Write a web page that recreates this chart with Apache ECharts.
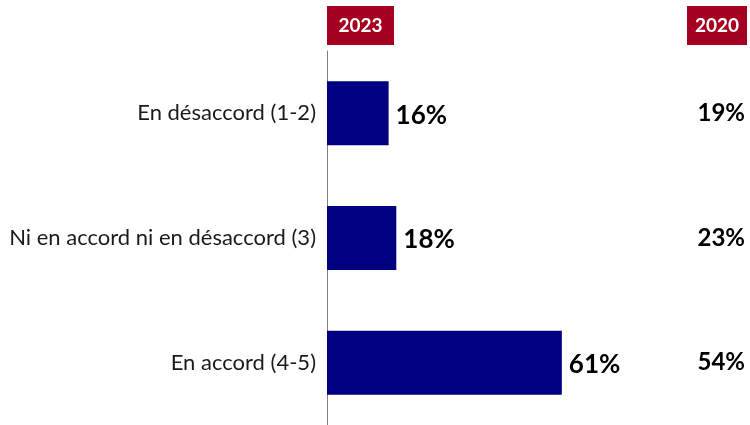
<!DOCTYPE html>
<html>
<head>
<meta charset="utf-8">
<script src="https://cdn.jsdelivr.net/npm/echarts@6/dist/echarts.min.js"></script>
<style>
  html, body { margin: 0; padding: 0; background: #fff; }
  #chart { width: 750px; height: 425px; }
</style>
</head>
<body>
<div id="chart"></div>
<script>
const categories = ["En désaccord (1-2)", "Ni en accord ni en désaccord (3)", "En accord (4-5)"];
const values2023 = [16, 18, 61];
const values2020 = [19, 23, 54];
const yearLabels = ["2023", "2020"];

const chart = echarts.init(document.getElementById("chart"), null, { renderer: "canvas" });

const font = "Lato, 'Open Sans', sans-serif";

const option = {
  animation: false,
  grid: { left: 327, top: 51, width: 385, height: 380, containLabel: false },
  xAxis: {
    type: "value",
    min: 0,
    max: 100,
    show: false,
  },
  yAxis: [
    {
      type: "category",
      data: categories,
      inverse: true,
      axisLine: { show: true, lineStyle: { color: "#808080", width: 1 } },
      axisTick: { show: false },
      axisLabel: { color: "#1a1a1a", fontSize: 22, fontFamily: font, margin: 11 },
    },
    {
      type: "category",
      data: values2020.map((v) => v + "%"),
      inverse: true,
      position: "right",
      axisLine: { show: false },
      axisTick: { show: false },
      axisLabel: {
        color: "#000",
        fontSize: 24,
        fontWeight: "bold",
        fontFamily: font,
        align: "right",
        margin: 33,
      },
    },
  ],
  series: [
    {
      type: "bar",
      data: values2023,
      barWidth: 64,
      itemStyle: { color: "#000080" },
      label: {
        show: true,
        position: "right",
        distance: 7,
        formatter: "{c}%",
        color: "#000",
        fontSize: 26,
        fontWeight: "bold",
        fontFamily: font,
        offset: [0, 2],
      },
    },
  ],
  graphic: [
    {
      type: "group",
      left: 327,
      top: 6,
      children: [
        { type: "rect", shape: { width: 67, height: 39 }, style: { fill: "#A50021" } },
        {
          type: "text",
          x: 33.5,
          y: 20,
          style: {
            text: yearLabels[0],
            fill: "#fff",
            font: "bold 19px " + font,
            align: "center",
            verticalAlign: "middle",
          },
        },
      ],
    },
    {
      type: "group",
      left: 687,
      top: 6,
      children: [
        { type: "rect", shape: { width: 60, height: 39 }, style: { fill: "#A50021" } },
        {
          type: "text",
          x: 30,
          y: 20,
          style: {
            text: yearLabels[1],
            fill: "#fff",
            font: "bold 19px " + font,
            align: "center",
            verticalAlign: "middle",
          },
        },
      ],
    },
  ],
};

chart.setOption(option);
</script>
</body>
</html>
